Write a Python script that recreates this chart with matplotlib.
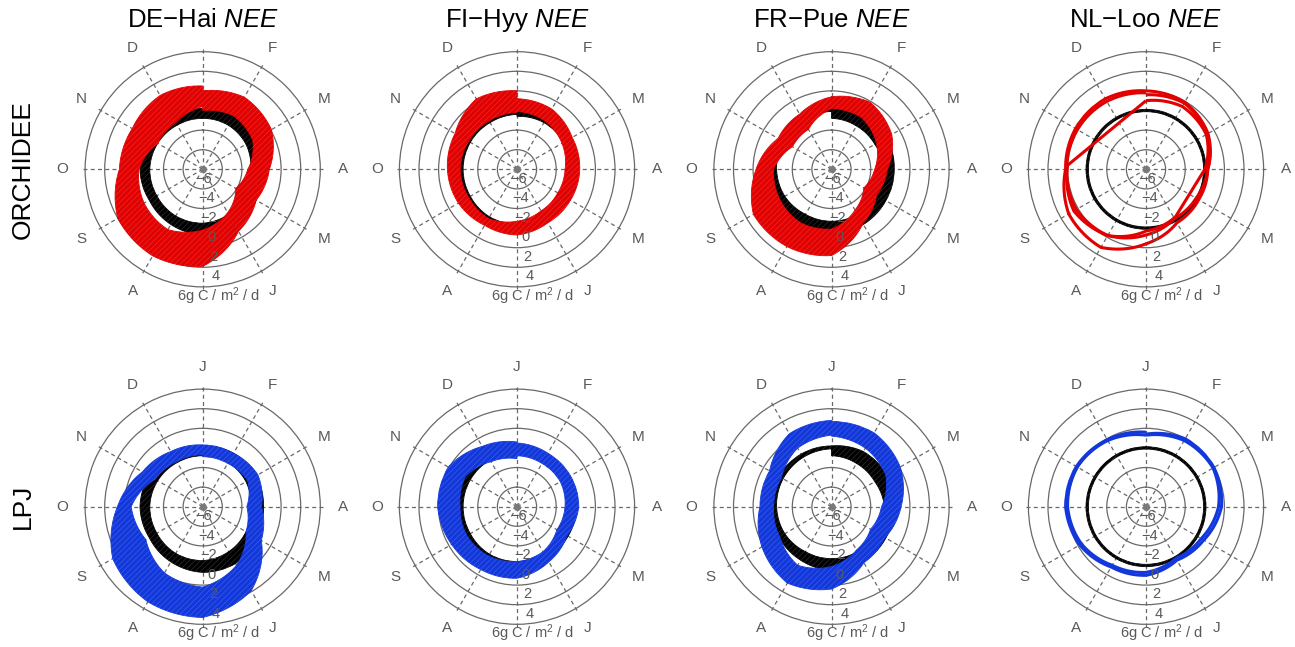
import numpy as np
import matplotlib
matplotlib.use('Agg')
import matplotlib.pyplot as plt
from matplotlib.path import Path
from matplotlib.patches import PathPatch

plt.rcParams['font.family'] = ['Liberation Sans', 'DejaVu Sans']
plt.rcParams['mathtext.fontset'] = 'custom'
plt.rcParams['mathtext.rm'] = 'Liberation Sans'
plt.rcParams['mathtext.it'] = 'Liberation Sans:italic'
plt.rcParams['hatch.linewidth'] = 0.4

# season clock: January at the top, months running clockwise
MONTH_DEG = [0, 30, 60, 90, 120, 150, 180, 210, 240, 270, 300, 330, 360]
MONTHS = ['J', 'F', 'M', 'A', 'M', 'J', '', 'A', 'S', 'O', 'N', 'D']
SITES = ['DE\u2212Hai', 'FI\u2212Hyy', 'FR\u2212Pue', 'NL\u2212Loo']
MODELS = ['ORCHIDEE', 'LPJ']
MODEL_COLORS = ['#e20000', '#1238dc']

RINGS = [-4, -2, 0, 2, 4, 6]
RING_LABELS = ['\u22126', '\u22124', '\u22122', '0', '2', '4']
RING_LABEL_AT = [-6, -4, -2, 0, 2, 4]
UNIT = r'6g C / m$^2$ / d'

# observed NEE envelope (g C / m2 / d), month starts Jan..Jan
dehai_obs_lo = [-0.8, -0.8, -0.9, -1.1, -0.9, -0.7, -0.5, -0.5, -0.6, -0.6, -0.7, -0.8, -0.8]
dehai_obs_hi = [0.2, 0.3, 0.3, 0.2, 0.3, 0.7, 0.7, 0.5, 0.3, 0.4, 0.3, 0.2, 0.2]
fihyy_obs_lo = [-0.6, -0.5, -0.5, -0.4, -0.5, -0.5, -0.4, -0.4, -0.5, -0.5, -0.5, -0.5, -0.4]
fihyy_obs_hi = [0.0, 0.1, 0.1, 0.1, 0.0, 0.1, 0.2, 0.1, 0.1, 0.1, 0.1, 0.1, 0.1]
frpue_obs_lo = [-0.8, -0.9, -0.9, -0.6, -0.7, -0.7, -0.7, -0.7, -0.5, -0.4, -0.3, -0.2, -0.1]
frpue_obs_hi = [0.2, 0.5, 0.5, 0.4, 0.4, 0.5, 0.5, 0.3, 0.2, 0.2, 0.2, 0.2, 0.2]
nlloo_obs_lo = [-0.12, -0.12, -0.12, -0.12, -0.12, -0.12, -0.12, -0.12, -0.12, -0.12, -0.12, -0.12, -0.12]
nlloo_obs_hi = [0.12, 0.12, 0.12, 0.12, 0.12, 0.12, 0.12, 0.12, 0.12, 0.12, 0.12, 0.12, 0.12]

# ORCHIDEE simulated NEE envelope
dehai_orc_lo = [0.0, 0.3, -0.1, -1.4, -2.1, -0.9, 0.2, 1.1, 0.9, 0.5, -0.7, -0.5, 0.4]
dehai_orc_hi = [2.0, 2.5, 2.1, 0.8, 0.3, 1.3, 3.9, 4.2, 4.0, 2.5, 2.3, 2.7, 2.5]
fihyy_orc_lo = [-0.1, -0.3, -0.7, -1.1, -1.2, -1.1, -0.7, -0.2, -0.3, -0.2, -0.3, -0.3, -0.2]
fihyy_orc_hi = [1.2, 1.1, 0.5, 0.4, 0.3, 0.3, 0.7, 0.6, 0.9, 1.1, 1.3, 2.3, 2.0]
frpue_orc_lo = [0.2, 0.1, -0.7, -1.6, -2.2, -1.2, 0.1, 0.3, 0.1, -0.1, -1.4, -1.3, 0.2]
frpue_orc_hi = [1.4, 1.9, 1.1, -0.3, -0.7, 0.4, 2.8, 3.1, 3.2, 1.7, 0.3, 0.5, 1.4]

# NL-Loo ORCHIDEE: separate yearly loops
nlloo_orc_a = [2.0, 1.9, 1.3, 0.3, 0.2, 0.3, 1.6, 3.2, 3.1, 2.2, 2.3, 2.3, 2.0]
nlloo_orc_b = [1.6, 1.8, 1.2, 0.3, -0.1, -0.2, 0.7, 1.8, 2.2, 2.1, 2.1, 2.0, 1.8]
nlloo_orc_c_deg = [0, 30, 60, 90, 148, 180, 210, 240, 273, 360]
nlloo_orc_c = [1.0, 1.4, 1.1, 0.0, -0.3, 0.3, 1.8, 2.5, 2.0, 1.0]
nlloo_orc_c_gaps = [3, 8]   # segments with missing days, joined straight

# LPJ simulated NEE envelope
dehai_lpj_lo = [-0.9, -0.9, -0.7, -1.5, -0.9, 0.9, 2.2, 1.8, 0.7, 1.3, -0.4, -0.7, -0.7]
dehai_lpj_hi = [0.3, 0.3, 0.5, 0.0, 0.9, 3.9, 5.3, 5.2, 4.6, 2.7, 1.1, 0.5, 0.3]
fihyy_lpj_lo = [-0.8, -0.9, -0.9, -1.1, -1.3, -0.7, -0.4, -0.2, -0.1, -0.2, 0.1, -0.7, -1.1]
fihyy_lpj_hi = [0.5, 0.3, 0.3, 0.3, -0.1, 0.5, 1.3, 1.4, 1.7, 2.1, 2.1, 1.1, 0.6]
frpue_lpj_lo = [1.2, 0.9, 0.4, -0.9, -1.4, -0.9, 0.1, 0.9, 0.1, -0.1, -0.1, 0.9, 1.3]
frpue_lpj_hi = [2.7, 2.7, 2.1, 1.1, 0.3, 0.6, 2.4, 3.0, 2.2, 1.3, 1.3, 2.6, 2.8]
nlloo_lpj_a = [1.4, 2.0, 2.0, 1.7, 0.8, 0.3, 1.0, 1.1, 1.8, 2.2, 2.2, 1.9, 1.6]
nlloo_lpj_b = [1.3, 1.8, 1.9, 1.4, 0.5, 0.1, 0.7, 0.9, 1.6, 2.0, 2.1, 1.8, 1.3]

obs = [(dehai_obs_lo, dehai_obs_hi), (fihyy_obs_lo, fihyy_obs_hi),
       (frpue_obs_lo, frpue_obs_hi), (nlloo_obs_lo, nlloo_obs_hi)]
sim_bands = {
    (0, 0): (dehai_orc_lo, dehai_orc_hi), (0, 1): (fihyy_orc_lo, fihyy_orc_hi),
    (0, 2): (frpue_orc_lo, frpue_orc_hi),
    (1, 0): (dehai_lpj_lo, dehai_lpj_hi), (1, 1): (fihyy_lpj_lo, fihyy_lpj_hi),
    (1, 2): (frpue_lpj_lo, frpue_lpj_hi),
}
sim_loops = {(0, 3): [nlloo_orc_a, nlloo_orc_b], (1, 3): [nlloo_lpj_a, nlloo_lpj_b]}

W, H = 1295, 647
COL_X = [202.7, 517, 831.5, 1146]
ROW_Y = [169.3, 506.7]
R_PX = 147          # axes radius in pixels, -6 at the centre up to 9
GREY = '#696969'
TXT = '#595959'


def band(ax, lo, hi, color, z):
    # filled envelope between two monthly curves, joined radially at Jan 1
    th = np.radians(MONTH_DEG)
    verts = np.column_stack([np.r_[th, th[::-1]], np.r_[hi, lo[::-1]]])
    verts = np.vstack([verts, verts[:1]])
    codes = [Path.MOVETO] + [Path.LINETO] * (len(verts) - 2) + [Path.CLOSEPOLY]
    path = Path(verts, codes, _interpolation_steps=30)
    ax.add_patch(PathPatch(path, fc=color, ec=color, lw=0.6, zorder=z))
    # fine streaks from the daily segments
    ax.add_patch(PathPatch(path, fill=False, ec=(1, 1, 1, 0.22), lw=0,
                           hatch='//////', zorder=z))


def loop(ax, deg, vals, color, lw, z):
    path = Path(np.column_stack([np.radians(deg), vals]), _interpolation_steps=30)
    ax.add_patch(PathPatch(path, fill=False, ec=color, lw=lw, zorder=z,
                           joinstyle='round', capstyle='butt'))


fig = plt.figure(figsize=(W / 100, H / 100), dpi=100)

for row in range(2):
    for col in range(4):
        cx, cy = COL_X[col], ROW_Y[row]
        ax = fig.add_axes([(cx - R_PX) / W, 1 - (cy + R_PX) / H,
                           2 * R_PX / W, 2 * R_PX / H], projection='polar')
        ax.set_theta_zero_location('N')
        ax.set_theta_direction(-1)
        ax.set_axisbelow(True)
        ax.patch.set_alpha(0)
        ax.spines['polar'].set_visible(False)
        ax.set_xticks([])
        ax.set_yticks(RINGS)
        ax.set_yticklabels([])
        ax.yaxis.grid(True, color=GREY, lw=0.9, ls='-')
        ax.tick_params(length=0)

        # dashed month spokes
        for d in MONTH_DEG[:-1]:
            ax.plot([np.radians(d)] * 2, [-6, 6.3], color=GREY, lw=0.9,
                    ls=(0, (3.2, 2.6)), zorder=1)
        ax.plot(0, -6, 'o', ms=4, color='#7a7a7a', zorder=1)

        lo, hi = obs[col]
        band(ax, lo, hi, 'black', 2)
        color = MODEL_COLORS[row]
        if (row, col) in sim_bands:
            slo, shi = sim_bands[(row, col)]
            band(ax, slo, shi, color, 3)
        else:
            for vals in sim_loops[(row, col)]:
                loop(ax, MONTH_DEG, vals, color, 2.2, 3)
            if row == 0:
                # year with data gaps: arcs where observed, straight joins across gaps
                th = np.radians(nlloo_orc_c_deg)
                start = 0
                for g in nlloo_orc_c_gaps + [len(th) - 1]:
                    if g > start:
                        loop(ax, nlloo_orc_c_deg[start:g + 1], nlloo_orc_c[start:g + 1],
                             color, 2.2, 3)
                    if g < len(th) - 1:
                        ax.plot(th[g:g + 2], nlloo_orc_c[g:g + 2], color=color,
                                lw=2.2, solid_capstyle='butt', zorder=3)
                    start = g + 1

        # month letters round the outside
        for k, m in enumerate(MONTHS):
            if not m or (row == 0 and k == 0):
                continue
            ax.text(np.radians(MONTH_DEG[k]), 8.3, m, ha='center', va='center',
                    fontsize=11, color=TXT)
        # ring values down the July spoke
        for lab, v in zip(RING_LABELS, RING_LABEL_AT):
            ax.text(np.radians(173), v + 1, lab, ha='center', va='center',
                    fontsize=10.5, color=TXT, zorder=6)
        ax.text(np.radians(173), 7, UNIT, ha='center', va='center',
                fontsize=10.5, color=TXT, zorder=6)

        ax.set_xlim(0, 2 * np.pi)
        ax.set_ylim(-6, 9)

        if row == 0:
            fig.text(cx / W, 1 - 20 / H, SITES[col] + r' $\mathit{NEE}$',
                     ha='center', va='center', fontsize=18.5)

for row, name in enumerate(MODELS):
    fig.text(23 / W, 1 - ROW_Y[row] / H, name, rotation=90,
             ha='center', va='center', fontsize=19)

fig.savefig('out.png', dpi=100)
